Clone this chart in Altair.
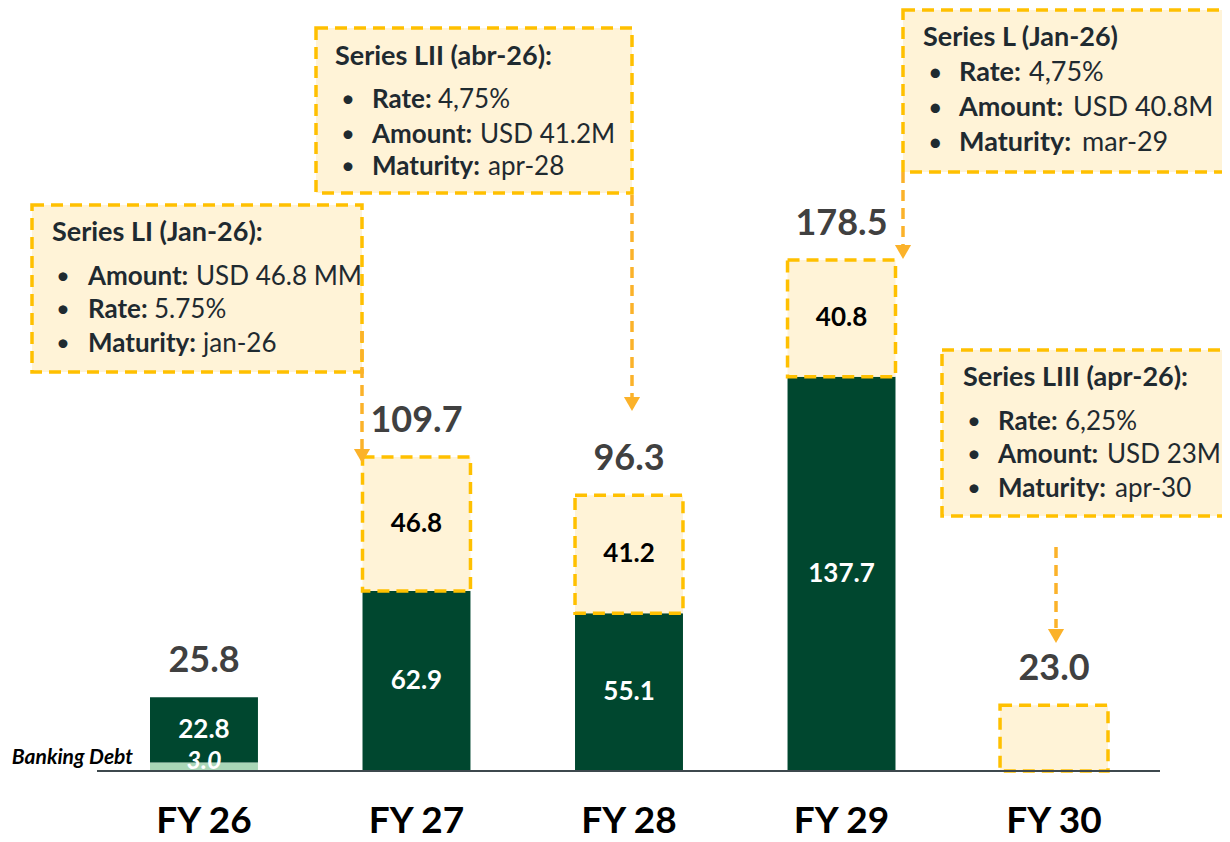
import altair as alt
import pandas as pd

# ---------------- data ----------------
years = ["FY 26", "FY 27", "FY 28", "FY 29", "FY 30"]
banking_debt = [3.0, 0.0, 0.0, 0.0, 0.0]
outstanding = [22.8, 62.9, 55.1, 137.7, 0.0]
new_series = [0.0, 46.8, 41.2, 40.8, 23.0]
totals = [25.8, 109.7, 96.3, 178.5, 23.0]
show_new_label = [False, True, True, True, False]

callout_titles = ["Series LI (Jan-26):", "Series LII (abr-26):",
                  "Series L (Jan-26)", "Series LIII (apr-26):"]
callout_keys = [["Amount:", "Rate:", "Maturity:"],
                ["Rate:", "Amount:", "Maturity:"],
                ["Rate:", "Amount:", "Maturity:"],
                ["Rate:", "Amount:", "Maturity:"]]
callout_values = [["USD 46.8 MM", "5.75%", "jan-26"],
                  ["4,75%", "USD 41.2M", "apr-28"],
                  ["4,75%", "USD 40.8M", "mar-29"],
                  ["6,25%", "USD 23M", "apr-30"]]
side_label = "Banking Debt"

# ---------------- layout / style ----------------
W, H = 1214, 834
OFF = 8  # page margin
FONT = "Lato"
DARK = "#00472F"
LIGHT = "#A9D6B7"
CREAM = "#FFF3D7"
GOLD = "#FFC000"
ARROW = "#FBB22A"
TXT = "#1F2A30"
TOT = "#404040"

def p(v):
    return v - OFF

# callout geometry in page pixels
box_rects = [(32, 205, 362, 372), (316, 28, 632, 193),
             (903, 10, 1240, 172), (942, 350, 1240, 516)]
title_pos = [(52, 233), (335, 57), (923, 38), (963, 378)]
title_size = [27, 27, 27, 27]
text_size = [26, 26, 27, 26]
bullet_x = [56, 341, 928, 967]
text_x = [88, 372, 959, 998]
line_y = [[277, 310, 344], [100, 135, 167], [73, 108, 143], [422, 455, 489]]
value_x = [[196, 154, 203], [438, 480, 488], [1029, 1073, 1082], [1065, 1107, 1115]]
arrow_lines = [(362, 331, 449), (632, 195, 397), (903, 172, 245), (1056, 547, 628)]
arrow_heads = [(362, 456), (632, 404), (903, 252), (1056, 636)]

# ---------------- scales ----------------
XS = alt.Scale(type="band", domain=years, range=[p(150), p(1108)],
               paddingInner=0.492, paddingOuter=0)
YS = alt.Scale(domain=[0, 178.5], range=[p(771), p(260)], nice=False, zero=False)
PXX = alt.Scale(domain=[0, W], range=[0, W], nice=False, zero=False)
PXY = alt.Scale(domain=[0, H], range=[0, H], nice=False, zero=False)

def bx(f="year", center=False):
    if center:
        return alt.X(f + ":N", scale=XS, axis=None, bandPosition=0.5)
    return alt.X(f + ":N", scale=XS, axis=None)

def vy(f):
    return alt.Y(f + ":Q", scale=YS, axis=None)

def px(f):
    return alt.X(f + ":Q", scale=PXX, axis=None)

def py(f):
    return alt.Y(f + ":Q", scale=PXY, axis=None)

# ---------------- bar data ----------------
seg = []
for i, yr in enumerate(years):
    b, o, n = banking_debt[i], outstanding[i], new_series[i]
    if b > 0:
        seg.append(dict(year=yr, kind="bank", y0=0.0, y1=b, mid=b / 2, label=f"{b:.1f}"))
    if o > 0:
        seg.append(dict(year=yr, kind="out", y0=b, y1=b + o, mid=b + o / 2, label=f"{o:.1f}"))
    if n > 0:
        seg.append(dict(year=yr, kind="new", y0=b + o, y1=b + o + n, mid=b + o + n / 2,
                        label=f"{n:.1f}" if show_new_label[i] else ""))
seg_df = pd.DataFrame(seg)
tot_df = pd.DataFrame({"year": years, "total": totals, "label": [f"{t:.1f}" for t in totals]})

solid = alt.Chart(seg_df).transform_filter("datum.kind != 'new'").mark_bar().encode(
    x=bx(), y=vy("y0"), y2="y1:Q",
    color=alt.Color("kind:N", scale=alt.Scale(domain=["bank", "out"], range=[LIGHT, DARK]), legend=None),
)
dashed = alt.Chart(seg_df).transform_filter("datum.kind == 'new'").mark_bar(
    fill=CREAM, stroke=GOLD, strokeWidth=3.5, strokeDash=[12, 7]
).encode(x=bx(), y=vy("y0"), y2="y1:Q")

out_lbl = alt.Chart(seg_df).transform_filter("datum.kind == 'out'").mark_text(
    font=FONT, fontSize=26, fontWeight="bold", color="white", baseline="middle"
).encode(x=bx(center=True), y=vy("mid"), text="label:N")
new_lbl = alt.Chart(seg_df).transform_filter("datum.kind == 'new'").mark_text(
    font=FONT, fontSize=26, fontWeight="bold", color="#000000", baseline="middle"
).encode(x=bx(center=True), y=vy("mid"), text="label:N")
bank_lbl = alt.Chart(seg_df).transform_filter("datum.kind == 'bank'").mark_text(
    font=FONT, fontSize=25, fontWeight="bold", fontStyle="italic", color="white",
    baseline="middle", dy=-6
).encode(x=bx(center=True), y=vy("mid"), text="label:N")

tot_lbl = alt.Chart(tot_df).mark_text(
    font=FONT, fontSize=36, fontWeight="bold", color=TOT, baseline="middle", dy=-36
).encode(x=bx(center=True), y=vy("total"), text="label:N")

cat_lbl = alt.Chart(tot_df).mark_text(
    font=FONT, fontSize=37, fontWeight="bold", color="#000000", baseline="alphabetic"
).encode(x=bx(center=True), y=alt.value(p(833)), text="year:N")

base_df = pd.DataFrame({"x": [p(97)], "x2": [p(1160)], "y": [p(771)]})
baseline = alt.Chart(base_df).mark_rule(color="#3E484D", strokeWidth=2).encode(
    x=px("x"), x2="x2:Q", y=py("y"))

side_df = pd.DataFrame({"x": [p(133)], "y": [p(758)], "t": [side_label]})
side = alt.Chart(side_df).mark_text(
    font=FONT, fontSize=21, fontWeight="bold", fontStyle="italic", color="#000000",
    align="right", baseline="middle"
).encode(x=px("x"), y=py("y"), text="t:N")

# ---------------- callouts ----------------
boxes_df = pd.DataFrame([dict(x=p(a), x2=p(c), y=p(b), y2=p(d)) for a, b, c, d in box_rects])
boxes = alt.Chart(boxes_df).mark_rect(
    fill=CREAM, stroke=GOLD, strokeWidth=3.5, strokeDash=[12, 7]
).encode(x=px("x"), x2="x2:Q", y=py("y"), y2="y2:Q")

titles_df = pd.DataFrame([dict(x=p(title_pos[k][0]), y=p(title_pos[k][1]),
                               t=callout_titles[k], s=title_size[k]) for k in range(4)])
titles = alt.Chart(titles_df).mark_text(
    font=FONT, fontWeight="bold", color=TXT, align="left", baseline="middle"
).encode(x=px("x"), y=py("y"), text="t:N", size=alt.Size("s:Q", scale=None))

bul, keys, vals = [], [], []
for k in range(4):
    for j in range(3):
        yy = p(line_y[k][j])
        bul.append(dict(x=p(bullet_x[k]), y=yy, t="\u2022", s=text_size[k] - 2))
        keys.append(dict(x=p(text_x[k]), y=yy, t=callout_keys[k][j], s=text_size[k]))
        vals.append(dict(x=p(value_x[k][j]), y=yy, t=callout_values[k][j], s=text_size[k]))
bullets = alt.Chart(pd.DataFrame(bul)).mark_text(
    font=FONT, color=TXT, align="left", baseline="middle"
).encode(x=px("x"), y=py("y"), text="t:N", size=alt.Size("s:Q", scale=None))
key_txt = alt.Chart(pd.DataFrame(keys)).mark_text(
    font=FONT, fontWeight="bold", color=TXT, align="left", baseline="middle"
).encode(x=px("x"), y=py("y"), text="t:N", size=alt.Size("s:Q", scale=None))
val_txt = alt.Chart(pd.DataFrame(vals)).mark_text(
    font=FONT, color=TXT, align="left", baseline="middle"
).encode(x=px("x"), y=py("y"), text="t:N", size=alt.Size("s:Q", scale=None))

arr_df = pd.DataFrame([dict(x=p(a), y=p(b), y2=p(c)) for a, b, c in arrow_lines])
arr_lines = alt.Chart(arr_df).mark_rule(color=ARROW, strokeWidth=3.5, strokeDash=[11, 7]).encode(
    x=px("x"), y=py("y"), y2="y2:Q")
head_df = pd.DataFrame([dict(x=p(a), y=p(b)) for a, b in arrow_heads])
arr_heads = alt.Chart(head_df).mark_point(
    shape="triangle-down", filled=True, size=260, color=ARROW, opacity=1
).encode(x=px("x"), y=py("y"))

chart = alt.layer(
    solid, dashed, baseline, out_lbl, new_lbl, bank_lbl, tot_lbl, cat_lbl, side,
    boxes, titles, bullets, key_txt, val_txt, arr_lines, arr_heads
).resolve_scale(x="independent", y="independent", color="independent",
                size="independent").properties(
    width=W, height=H, padding=0, autosize=alt.AutoSizeParams(type="none")
).configure_view(stroke=None)

chart.save("out.html", embed_options={"renderer": "svg", "actions": False})
